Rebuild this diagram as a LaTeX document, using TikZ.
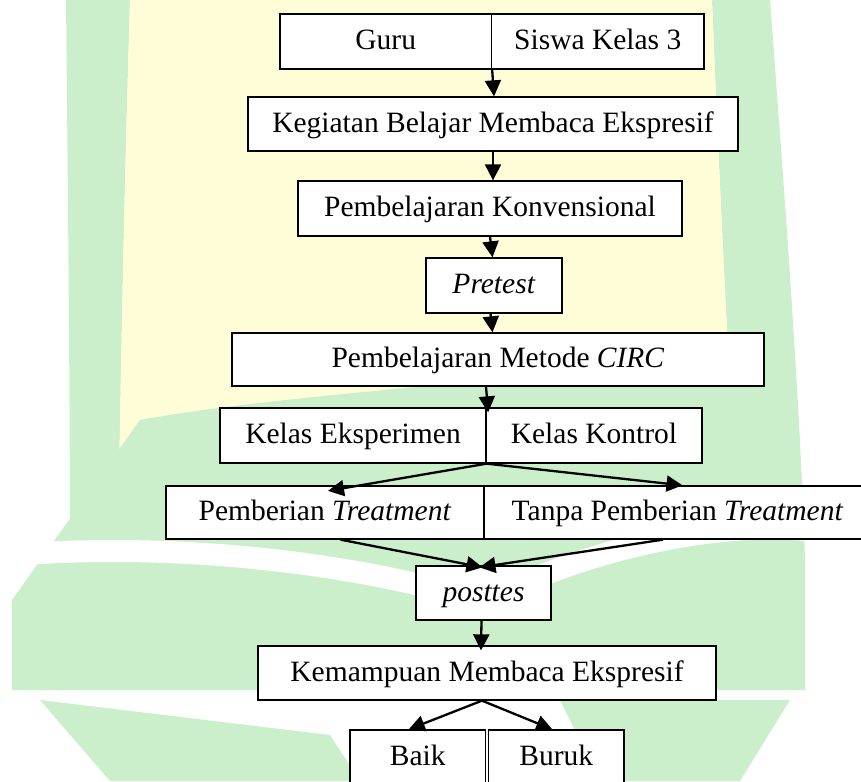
\documentclass[tikz,border=0pt]{standalone}
\usepackage{fontspec}
\setmainfont{Liberation Serif}
\usetikzlibrary{arrows.meta,calc}
\definecolor{wmyellow}{HTML}{FEFDD8}
\definecolor{wmgreen}{HTML}{CCEFCB}
\begin{document}
\begin{tikzpicture}[x=1pt,y=-1pt,
  box/.style={draw=black,line width=1.3pt,fill=white,rectangle,inner sep=0pt,
    text height=22pt,text depth=6pt,font=\fontsize{29.5}{34}\selectfont},
  arr/.style={line width=2.3pt,-{Triangle[length=16pt,width=16pt]}}]
\useasboundingbox (0,0) rectangle (861,781);
\fill[white] (0,0) rectangle (861,781);
% ---- watermark (approximate) ----
\fill[wmgreen] (66,0) -- (130,0) .. controls (124,200) and (120,400) .. (118,560)
  -- (70,560) .. controls (70,400) and (68,200) .. (66,0) -- cycle;
\fill[wmgreen] (712,0) -- (770,0) .. controls (785,200) and (800,400) .. (805,560)
  -- (740,560) .. controls (730,400) and (720,200) .. (712,0) -- cycle;
\fill[wmyellow] (130,0) -- (712,0) .. controls (720,200) and (730,400) .. (740,560)
  -- (118,560) .. controls (120,400) and (124,200) .. (130,0) -- cycle;
\fill[wmgreen] (140,420) .. controls (250,400) and (400,390) .. (480,380)
  .. controls (580,370) and (680,350) .. (745,330) -- (805,560) -- (805,690)
  -- (12,690) -- (12,600) -- cycle;
\draw[white,line width=22pt] (10,555) .. controls (200,540) and (380,570) .. (475,600);
\draw[white,line width=22pt] (805,530) .. controls (700,520) and (560,560) .. (490,600);
\fill[wmgreen] (40,700) -- (330,735) -- (360,781) -- (110,781) -- cycle;
\fill[wmgreen] (560,700) -- (790,700) -- (740,781) -- (600,781) -- cycle;
% ---- boxes ----
\node[box,minimum width=211.5pt,minimum height=55pt] (guru) at (385.75,41.5) {Guru};
\node[box,minimum width=212.5pt,minimum height=55pt] (siswa) at (597.75,41.5) {Siswa Kelas 3};
\node[box,minimum width=490pt,minimum height=54pt] (kegiatan) at (493,124) {Kegiatan Belajar Membaca Ekspresif};
\node[box,minimum width=384pt,minimum height=55pt] (konv) at (490,208.5) {Pembelajaran Konvensional};
\node[box,minimum width=136pt,minimum height=55pt] (pretest) at (494,285.5) {\textit{Pretest}};
\node[box,minimum width=532pt,minimum height=53pt] (circ) at (498,359.5) {Pembelajaran Metode \textit{CIRC}};
\node[box,minimum width=266pt,minimum height=55pt] (eksp) at (353,435.5) {Kelas Eksperimen};
\node[box,minimum width=216pt,minimum height=55pt] (kontrol) at (594,435.5) {Kelas Kontrol};
\node[box,minimum width=318pt,minimum height=53pt] (treat) at (325,512.5) {Pemberian \textit{Treatment}};
\node[box,minimum width=387pt,minimum height=53pt] (tanpa) at (677.5,512.5) {Tanpa Pemberian \textit{Treatment}};
\node[box,minimum width=135pt,minimum height=54pt] (posttes) at (483.5,593) {\textit{posttes}\hspace{15pt}};
\node[box,minimum width=458pt,minimum height=54pt] (kemampuan) at (487,673) {Kemampuan Membaca Ekspresif};
\node[box,minimum width=135.5pt,minimum height=55pt] (baik) at (417.75,757.5) {Baik};
\node[box,minimum width=135.5pt,minimum height=55pt] (buruk) at (556.25,757.5) {Buruk};
% ---- arrows ----
\draw[arr] (guru.south east) -- ($(kegiatan.north)+(1,0)$);
\draw[arr] (kegiatan.south) -- (kegiatan.south |- konv.north);
\draw[arr] (konv.south) -- ($(pretest.north)+(-1.5,0)$);
\draw[arr] ($(pretest.south)+(-3.5,0)$) -- ($(circ.north)+(-5.5,0)$);
\draw[arr] ($(circ.south)+(-12,0)$) -- ($(eksp.north east)+(1.5,5)$);
\draw[arr] (eksp.south east) -- ($(treat.north)+(3,5.5)$);
\draw[arr] (eksp.south east) -- ($(tanpa.north)+(5,0)$);
\draw[arr] ($(treat.south)+(15.5,0)$) -- ($(posttes.north)+(-1,2)$);
\draw[arr] ($(tanpa.south)+(-14.5,0)$) -- ($(posttes.north)+(-4,2)$);
\draw[arr] ($(posttes.south)+(-2,0)$) -- ($(kemampuan.north)+(-6,5)$);
\draw[arr] ($(kemampuan.south)+(-5,0)$) -- ($(baik.north)+(-9,0)$);
\draw[arr] ($(kemampuan.south)+(-5,0)$) -- ($(buruk.north)+(-4,0)$);
\end{tikzpicture}
\end{document}
